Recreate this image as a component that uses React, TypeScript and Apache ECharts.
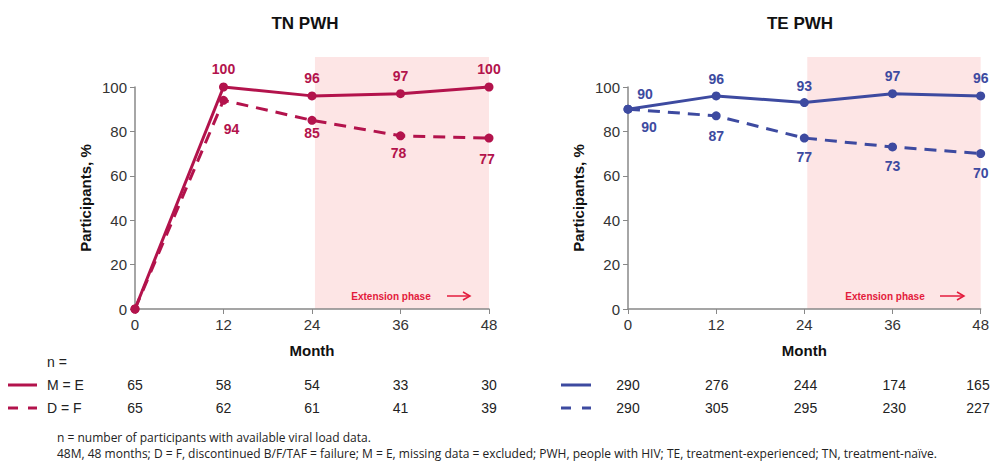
import React, { useEffect, useRef } from "react";
import * as echarts from "echarts";

const months = [0, 12, 24, 36, 48];
const tnME = [0, 100, 96, 97, 100];
const tnDF = [0, 94, 85, 78, 77];
const teME = [90, 96, 93, 97, 96];
const teDF = [90, 87, 77, 73, 70];
const tnNME = [65, 58, 54, 33, 30];
const tnNDF = [65, 62, 61, 41, 39];
const teNME = [290, 276, 244, 174, 165];
const teNDF = [290, 305, 295, 230, 227];
const extensionStart = 24.4;
const extensionEnd = 48;
const shadeTop = 113.5;

const RED = "#B3134C";
const BLUE = "#3D4AA0";
const EXT = "#E31B3C";
const SHADE = "#FDE5E5";

const G1 = { left: 135, top: 87, width: 354, height: 222 };
const G2 = { left: 628, top: 87, width: 355, height: 222 };

// label offsets (layout only)
const tnMEOff = [[0, 0], [0, -18], [0, -18], [0, -18], [0, -18]];
const tnDFOff = [[0, 0], [8, 29], [0, 13], [-2, 17], [-2, 21]];
const teMEOff = [[17, -15], [0, -17], [0, -17], [0, -18], [0, -18]];
const teDFOff = [[21, 18], [0, 20], [0, 19], [0, 19], [0, 19]];

const TF = "Liberation Sans, Arial, sans-serif";

function mk(vals: number[], offs: number[][], hideFirst: boolean) {
  return months.map((m, i) => ({
    value: [m, vals[i]],
    label: { show: !(hideFirst && i === 0), offset: offs[i] },
  }));
}

function lineSeries(name: string, idx: number, vals: number[], offs: number[][], color: string, dashed: boolean, hideFirst: boolean) {
  return {
    name,
    type: "line",
    xAxisIndex: idx,
    yAxisIndex: idx,
    data: mk(vals, offs, hideFirst),
    symbol: "circle",
    symbolSize: 9,
    z: 3,
    clip: false,
    lineStyle: { color, width: 3, type: dashed ? [12, 8] : "solid" },
    itemStyle: { color },
    label: {
      show: true,
      position: "inside",
      color,
      fontWeight: "bold",
      fontSize: 14,
      fontFamily: TF,
    },
  };
}

const axisFont = { fontFamily: TF, color: "#333" };

function xAxis(idx: number) {
  return {
    type: "value",
    gridIndex: idx,
    min: 0,
    max: 48,
    interval: 12,
    name: "Month",
    nameLocation: "middle",
    nameGap: 34,
    nameTextStyle: { ...axisFont, color: "#111", fontWeight: "bold", fontSize: 15 },
    axisLine: { show: true, lineStyle: { color: "#888", width: 1.5 } },
    axisTick: { show: true, length: 5, lineStyle: { color: "#888" } },
    axisLabel: { ...axisFont, fontSize: 15, margin: 8 },
    splitLine: { show: false },
    z: 2,
  };
}

function yAxis(idx: number) {
  return {
    type: "value",
    gridIndex: idx,
    min: 0,
    max: 100,
    interval: 20,
    name: "Participants, %",
    nameLocation: "middle",
    nameGap: 42,
    nameTextStyle: { ...axisFont, color: "#111", fontWeight: "bold", fontSize: 15 },
    axisLine: { show: true, lineStyle: { color: "#888", width: 1.5 } },
    axisTick: { show: true, length: 5, lineStyle: { color: "#888" } },
    axisLabel: { ...axisFont, fontSize: 15, margin: 8 },
    splitLine: { show: false },
    z: 2,
  };
}

function tableTexts(g: typeof G1, me: number[], df: number[]) {
  const out: any[] = [];
  const step = g.width / 4;
  const put = (v: number, i: number, y: number) => {
    const x = Math.min(g.left + i * step, 992 - 14);
    out.push({
      type: "text",
      x,
      y,
      style: { text: String(v), fontSize: 14, fill: "#222", fontFamily: TF, align: "center", verticalAlign: "middle" },
    });
  };
  me.forEach((v, i) => put(v, i, 385));
  df.forEach((v, i) => put(v, i, 408));
  return out;
}

function extLabel(cx: number, a1: number, a2: number) {
  return [
    {
      type: "text",
      x: cx,
      y: 296,
      z: 5,
      style: { text: "Extension phase", fontSize: 10, fontWeight: "bold", fill: EXT, fontFamily: TF, align: "center", verticalAlign: "middle" },
    },
    { type: "line", z: 5, shape: { x1: a1, y1: 296, x2: a2, y2: 296 }, style: { stroke: EXT, lineWidth: 1.5 } },
    { type: "polyline", z: 5, shape: { points: [[a2 - 7, 292], [a2, 296], [a2 - 7, 300]] }, style: { stroke: EXT, lineWidth: 1.5, fill: null } },
  ];
}

function legendLines(x1: number, x2: number, color: string) {
  return [
    { type: "line", shape: { x1, y1: 385, x2, y2: 385 }, style: { stroke: color, lineWidth: 3 } },
    { type: "line", shape: { x1, y1: 408, x2: x1 + 10, y2: 408 }, style: { stroke: color, lineWidth: 3 } },
    { type: "line", shape: { x1: x2 - 9, y1: 408, x2, y2: 408 }, style: { stroke: color, lineWidth: 3 } },
  ];
}

const footnote1 = "n = number of participants with available viral load data.";
const footnote2 =
  "48M, 48 months; D = F, discontinued B/F/TAF = failure; M = E, missing data = excluded; PWH, people with HIV; TE, treatment-experienced; TN, treatment-naïve.";

export default function App() {
  const ref = useRef<HTMLDivElement>(null);
  useEffect(() => {
    if (!ref.current) return;
    const chart = echarts.init(ref.current, null, { renderer: "svg" });
    const baseGraphic: any[] = [
      ...extLabel(391, 447, 470),
      ...extLabel(885, 940, 964),
      { type: "text", x: 47, y: 362, style: { text: "n =", fontSize: 14, fill: "#222", fontFamily: TF, verticalAlign: "middle" } },
      { type: "text", x: 47, y: 385, style: { text: "M = E", fontSize: 14, fill: "#222", fontFamily: TF, verticalAlign: "middle" } },
      { type: "text", x: 47, y: 408, style: { text: "D = F", fontSize: 14, fill: "#222", fontFamily: TF, verticalAlign: "middle" } },
      ...legendLines(8, 37, RED),
      ...legendLines(561, 591, BLUE),
      ...tableTexts(G1, tnNME, tnNDF),
      ...tableTexts(G2, teNME, teNDF),
      { type: "text", x: 57, y: 437, style: { text: footnote1, fontSize: 12, fill: "#222", fontFamily: "Open Sans, sans-serif", verticalAlign: "middle" } },
      { type: "text", x: 57, y: 453, style: { text: footnote2, fontSize: 12, fill: "#222", fontFamily: "Open Sans, sans-serif", verticalAlign: "middle" } },
    ];
    const option: any = {
      animation: false,
      backgroundColor: "#fff",
      title: [
        { text: "TN PWH", left: 300, top: 10, textAlign: "center", textStyle: { fontSize: 17, fontWeight: "bold", color: "#111", fontFamily: TF } },
        { text: "TE PWH", left: 795, top: 10, textAlign: "center", textStyle: { fontSize: 17, fontWeight: "bold", color: "#111", fontFamily: TF } },
      ],
      grid: [
        { left: G1.left, top: G1.top, width: G1.width, height: G1.height },
        { left: G2.left, top: G2.top, width: G2.width, height: G2.height },
      ],
      xAxis: [xAxis(0), xAxis(1)],
      yAxis: [yAxis(0), yAxis(1)],
      series: [
        lineSeries("TN M = E", 0, tnME, tnMEOff, RED, false, true),
        lineSeries("TN D = F", 0, tnDF, tnDFOff, RED, true, true),
        lineSeries("TE M = E", 1, teME, teMEOff, BLUE, false, false),
        lineSeries("TE D = F", 1, teDF, teDFOff, BLUE, true, false),
      ],
      graphic: baseGraphic,
    };
    chart.setOption(option);
    const shades = [0, 1].map((gi) => {
      const p1 = chart.convertToPixel({ gridIndex: gi }, [extensionStart, 0]) as number[];
      const p2 = chart.convertToPixel({ gridIndex: gi }, [extensionEnd, shadeTop]) as number[];
      return {
        type: "rect",
        z: -10,
        silent: true,
        shape: { x: p1[0], y: p2[1], width: p2[0] - p1[0], height: p1[1] - p2[1] },
        style: { fill: SHADE },
      };
    });
    chart.setOption({ graphic: [...shades, ...baseGraphic] }, { replaceMerge: ["graphic"] });
    return () => chart.dispose();
  }, []);
  return <div ref={ref} style={{ width: 992, height: 465, position: "absolute", left: 0, top: 0 }} />;
}
